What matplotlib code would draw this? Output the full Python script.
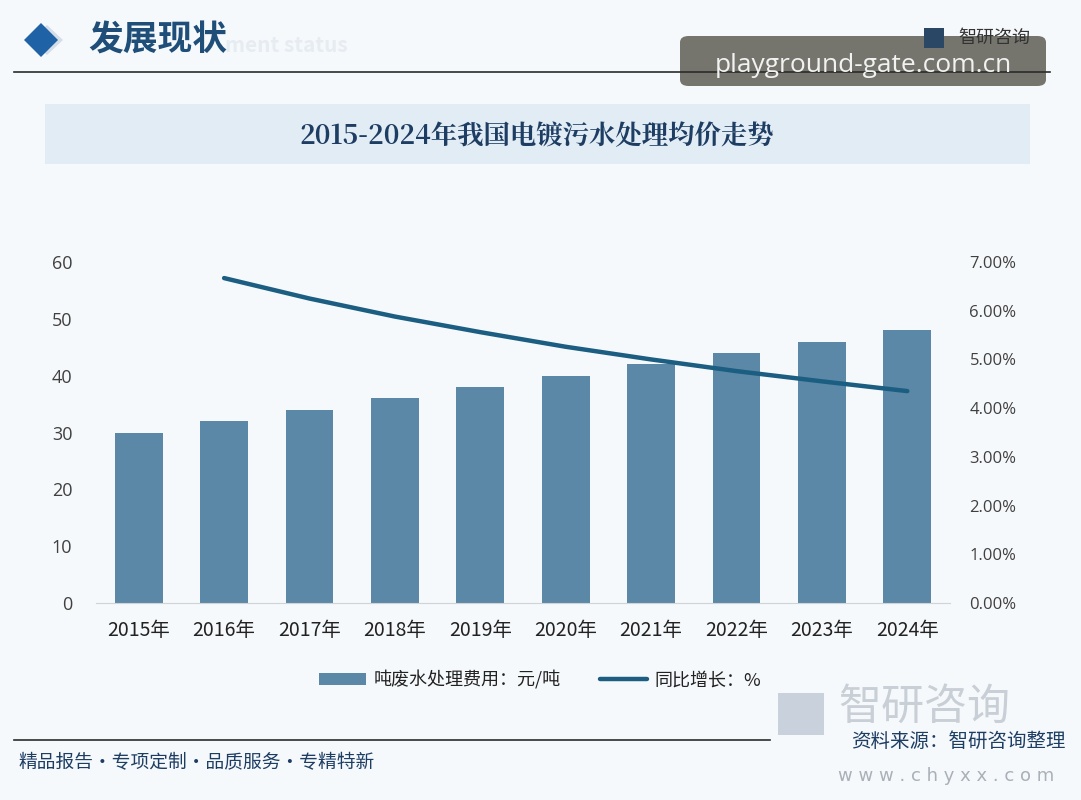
import matplotlib
matplotlib.use("Agg")
import matplotlib.pyplot as plt
from matplotlib.patches import Rectangle, FancyBboxPatch, Polygon
from matplotlib.lines import Line2D

plt.rcParams['font.family'] = ['Noto Sans CJK SC', 'DejaVu Sans']

# ---- data ----
years = ["2015年", "2016年", "2017年", "2018年", "2019年",
         "2020年", "2021年", "2022年", "2023年", "2024年"]
cost = [30, 32, 34, 36, 38, 40, 42, 44, 46, 48]
growth_years = ["2016年", "2017年", "2018年", "2019年",
                "2020年", "2021年", "2022年", "2023年", "2024年"]
growth = [6.67, 6.25, 5.88, 5.56, 5.26, 5.00, 4.76, 4.55, 4.35]
left_ticks = [0, 10, 20, 30, 40, 50, 60]
right_ticks = [0, 1, 2, 3, 4, 5, 6, 7]

title = "2015-2024年我国电镀污水处理均价走势"
bar_label = "吨废水处理费用：元/吨"
line_label = "同比增长：%"

W, H = 1081, 800
fig = plt.figure(figsize=(W / 100, H / 100), dpi=100)
fig.patch.set_facecolor("#F6F9FB")

def fx(px):
    return px / W

def fy(py):
    return 1 - py / H

# ---- header ----
fig.patches.append(Polygon([(fx(47), fy(25)), (fx(63), fy(40)), (fx(47), fy(55)), (fx(31), fy(40))],
                           closed=True, transform=fig.transFigure, facecolor="#D5DEE8", edgecolor="none"))
fig.patches.append(Polygon([(fx(41), fy(23)), (fx(58), fy(40)), (fx(41), fy(57)), (fx(24), fy(40))],
                           closed=True, transform=fig.transFigure, facecolor="#1F62A6", edgecolor="none"))
fig.text(fx(88), fy(40), "发展现状", fontsize=25, color="#1F4E79", va="center", ha="left", fontweight="bold",
         zorder=3)
fig.text(fx(225), fy(46), "ment status", fontsize=15, color="#E6ECF1", va="center", ha="left", fontweight="bold",
         zorder=2)
fig.add_artist(Line2D([fx(14), fx(1050)], [fy(72), fy(72)], transform=fig.transFigure, color="#2B2B2B", lw=1.2))

# overlay watermark box
fig.patches.append(FancyBboxPatch((fx(680), fy(86)), fx(366), 50 / H,
                                  boxstyle="round,pad=0,rounding_size=0.008",
                                  transform=fig.transFigure, facecolor="#6E6E66", edgecolor="none", alpha=0.95))
fig.text(fx(863), fy(66), "playground-gate.com.cn", fontsize=19, color="#F2F2F2", va="center", ha="center",
         family=['Open Sans', 'DejaVu Sans'], zorder=5)

# header logo (drawn over the box edge)
fig.text(fx(958), fy(38), "智研咨询", fontsize=13, color="#333333", va="center", ha="left", zorder=6)
logo = Rectangle((fx(924), fy(48)), fx(20), 20 / H, transform=fig.transFigure,
                 facecolor="#2A4766", edgecolor="none", zorder=6)
fig.add_artist(logo)

# title band
fig.patches.append(Rectangle((fx(45), fy(164)), fx(985), 60 / H, transform=fig.transFigure,
                             facecolor="#E2ECF4", edgecolor="none"))
fig.text(fx(537), fy(136), title, fontsize=19, color="#1D3D63", va="center", ha="center", fontweight="bold",
         family=['Noto Serif CJK SC', 'Noto Sans CJK SC', 'DejaVu Sans'])

# ---- chart ----
ax = fig.add_axes([fx(96), fy(603), fx(950 - 96), (603 - 262) / H])
ax.set_facecolor("none")
x = list(range(len(years)))
ax.bar(x, cost, width=0.56, color="#5A88A6", label=bar_label, zorder=2)
ax.set_ylim(0, 60)
ax.set_xlim(-0.5, len(years) - 0.5)
ax.set_yticks(left_ticks)
ax.set_xticks(x)
ax.set_xticklabels(years)
for s in ["top", "right", "left"]:
    ax.spines[s].set_visible(False)
ax.spines["bottom"].set_color("#D0D4D8")
ax.tick_params(axis="both", length=0, colors="#404040", labelsize=13)
ax.tick_params(axis="x", pad=12, labelcolor="#222222", labelsize=14)
ax.tick_params(axis="y", pad=17)
for lab in ax.get_yticklabels():
    lab.set_family(['Open Sans', 'DejaVu Sans'])

ax2 = ax.twinx()
gx = [years.index(g) for g in growth_years]
ax2.plot(gx, growth, color="#1B5E82", lw=3.2, solid_capstyle="round", label=line_label, zorder=3)
ax2.set_ylim(0, 7)
ax2.set_yticks(right_ticks)
ax2.set_yticklabels([f"{v:.2f}%" for v in right_ticks])
for s in ["top", "right", "left", "bottom"]:
    ax2.spines[s].set_visible(False)
ax2.tick_params(axis="y", length=0, colors="#404040", labelsize=12, pad=14)
for lab in ax2.get_yticklabels():
    lab.set_family(['Open Sans', 'DejaVu Sans'])

# legend
h1, l1 = ax.get_legend_handles_labels()
h2, l2 = ax2.get_legend_handles_labels()
fig.legend(h1 + h2, l1 + l2, loc="center", bbox_to_anchor=(fx(540), fy(680)), ncol=2, frameon=False,
           fontsize=13, handlelength=2.6, handleheight=0.6, columnspacing=2.2, handletextpad=0.4,
           labelcolor="#222222")

# ---- footer ----
fig.add_artist(Line2D([fx(14), fx(770)], [fy(740), fy(740)], transform=fig.transFigure, color="#2B2B2B", lw=1.2))
fig.text(fx(18), fy(763), "精品报告・专项定制・品质服务・专精特新", fontsize=13.5, color="#1D3D63",
         va="center", ha="left")
fig.text(fx(838), fy(708), "智研咨询", fontsize=31, color="#C9CFD6", va="center", ha="left")
fig.patches.append(Rectangle((fx(778), fy(735)), fx(46), 42 / H, transform=fig.transFigure,
                             facecolor="#C9D2DC", edgecolor="none"))
fig.text(fx(1066), fy(741), "资料来源：智研咨询整理", fontsize=14, color="#1D3D63", va="center", ha="right")
fig.text(fx(946), fy(776), "w w w . c h y x x . c o m", fontsize=13, color="#A9B0B8", va="center", ha="center",
         family=['DejaVu Sans'])

fig.savefig("out.png", dpi=100, facecolor=fig.get_facecolor())
